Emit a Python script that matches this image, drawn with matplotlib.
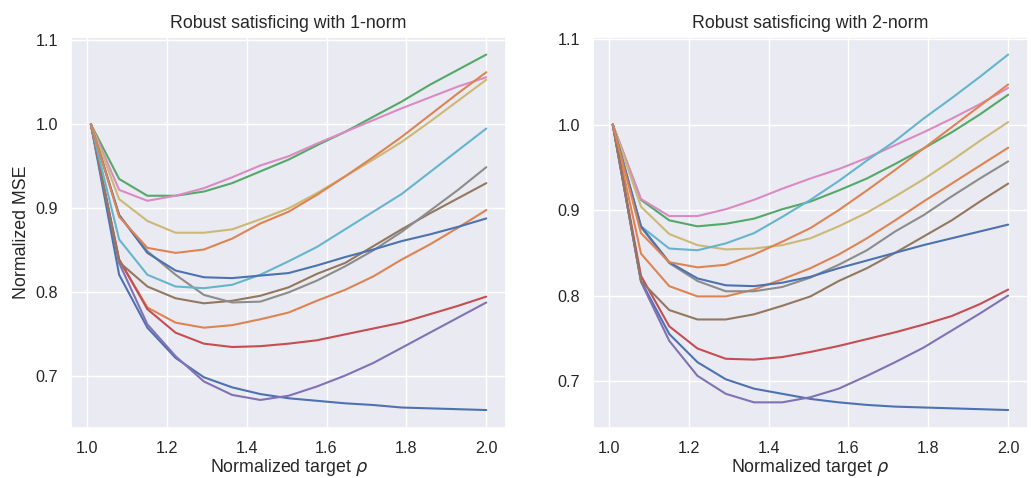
import numpy as np
import matplotlib
matplotlib.use("Agg")
import matplotlib.pyplot as plt
import seaborn as sns

# normalized target rho (15 points)
rho = [1.01, 1.0807, 1.1514, 1.2221, 1.2929, 1.3636, 1.4343, 1.505,
       1.5757, 1.6464, 1.7171, 1.7879, 1.8586, 1.9293, 2.0]

# ---- 1-norm ----
n1_blue_a = [1.0, 0.821, 0.758, 0.722, 0.699, 0.687, 0.679, 0.674, 0.671, 0.668, 0.666, 0.663, 0.662, 0.661, 0.660]
n1_orange_a = [1.0, 0.839, 0.782, 0.764, 0.758, 0.761, 0.768, 0.776, 0.790, 0.803, 0.819, 0.839, 0.857, 0.877, 0.898]
n1_green = [1.0, 0.935, 0.915, 0.915, 0.920, 0.930, 0.944, 0.958, 0.975, 0.991, 1.009, 1.027, 1.047, 1.065, 1.083]
n1_red = [1.0, 0.839, 0.780, 0.752, 0.739, 0.735, 0.736, 0.739, 0.743, 0.750, 0.757, 0.764, 0.774, 0.784, 0.795]
n1_purple = [1.0, 0.835, 0.762, 0.724, 0.694, 0.678, 0.672, 0.677, 0.688, 0.701, 0.716, 0.734, 0.752, 0.770, 0.788]
n1_brown = [1.0, 0.836, 0.807, 0.793, 0.787, 0.790, 0.796, 0.806, 0.822, 0.835, 0.855, 0.875, 0.894, 0.912, 0.930]
n1_pink = [1.0, 0.922, 0.909, 0.915, 0.924, 0.937, 0.951, 0.962, 0.977, 0.991, 1.005, 1.019, 1.032, 1.045, 1.056]
n1_gray = [1.0, 0.892, 0.849, 0.821, 0.797, 0.788, 0.789, 0.800, 0.814, 0.831, 0.850, 0.872, 0.897, 0.922, 0.949]
n1_olive = [1.0, 0.911, 0.885, 0.871, 0.871, 0.875, 0.887, 0.900, 0.918, 0.938, 0.958, 0.979, 1.003, 1.028, 1.053]
n1_cyan = [1.0, 0.863, 0.821, 0.807, 0.805, 0.809, 0.821, 0.837, 0.854, 0.875, 0.896, 0.917, 0.943, 0.969, 0.995]
n1_blue_b = [1.0, 0.892, 0.847, 0.826, 0.818, 0.817, 0.820, 0.823, 0.832, 0.842, 0.851, 0.861, 0.869, 0.878, 0.888]
n1_orange_b = [1.0, 0.890, 0.853, 0.847, 0.851, 0.864, 0.882, 0.896, 0.916, 0.938, 0.961, 0.985, 1.011, 1.037, 1.062]

# ---- 2-norm ----
n2_blue_a = [1.0, 0.817, 0.755, 0.722, 0.702, 0.691, 0.685, 0.679, 0.675, 0.672, 0.670, 0.669, 0.668, 0.667, 0.666]
n2_orange_a = [1.0, 0.849, 0.811, 0.799, 0.799, 0.807, 0.819, 0.832, 0.848, 0.867, 0.888, 0.910, 0.931, 0.952, 0.973]
n2_green = [1.0, 0.912, 0.888, 0.881, 0.884, 0.890, 0.901, 0.910, 0.923, 0.937, 0.954, 0.972, 0.991, 1.012, 1.035]
n2_red = [1.0, 0.823, 0.764, 0.738, 0.726, 0.725, 0.728, 0.734, 0.741, 0.749, 0.757, 0.766, 0.776, 0.790, 0.807]
n2_purple = [1.0, 0.816, 0.747, 0.706, 0.685, 0.675, 0.675, 0.681, 0.691, 0.706, 0.722, 0.739, 0.759, 0.779, 0.800]
n2_brown = [1.0, 0.817, 0.783, 0.772, 0.772, 0.778, 0.788, 0.799, 0.817, 0.832, 0.850, 0.869, 0.888, 0.910, 0.931]
n2_pink = [1.0, 0.913, 0.893, 0.893, 0.901, 0.912, 0.925, 0.937, 0.948, 0.961, 0.976, 0.991, 1.007, 1.024, 1.043]
n2_gray = [1.0, 0.880, 0.838, 0.817, 0.805, 0.805, 0.810, 0.821, 0.836, 0.853, 0.875, 0.894, 0.916, 0.937, 0.957]
n2_olive = [1.0, 0.904, 0.872, 0.859, 0.854, 0.855, 0.859, 0.867, 0.881, 0.897, 0.916, 0.936, 0.958, 0.981, 1.003]
n2_cyan = [1.0, 0.881, 0.855, 0.853, 0.861, 0.873, 0.892, 0.912, 0.934, 0.958, 0.981, 1.007, 1.031, 1.056, 1.082]
n2_blue_b = [1.0, 0.881, 0.839, 0.820, 0.812, 0.811, 0.815, 0.822, 0.832, 0.841, 0.850, 0.859, 0.867, 0.875, 0.883]
n2_orange_b = [1.0, 0.873, 0.839, 0.833, 0.836, 0.848, 0.863, 0.879, 0.900, 0.923, 0.947, 0.972, 0.997, 1.022, 1.047]

norm1 = [n1_blue_a, n1_orange_a, n1_green, n1_red, n1_purple, n1_brown,
         n1_pink, n1_gray, n1_olive, n1_cyan, n1_blue_b, n1_orange_b]
norm2 = [n2_blue_a, n2_orange_a, n2_green, n2_red, n2_purple, n2_brown,
         n2_pink, n2_gray, n2_olive, n2_cyan, n2_blue_b, n2_orange_b]

sns.set_theme(style="darkgrid")
plt.rcParams['font.family'] = ['Liberation Sans', 'DejaVu Sans']

fig, axes = plt.subplots(1, 2, figsize=(10.31, 4.78), dpi=100)
fig.subplots_adjust(left=0.069, right=0.997, bottom=0.105, top=0.923, wspace=0.2)

for ax, curves, title in zip(axes, [norm1, norm2], ['Robust satisficing with 1-norm', 'Robust satisficing with 2-norm']):
    for c in curves:
        ax.plot(rho, c)
    ax.set_title(title, fontsize=12.8)
    ax.set_xlabel(r'Normalized target $\rho$', fontsize=12.8, labelpad=1)
    ax.tick_params(labelsize=11.6)
axes[0].set_ylabel('Normalized MSE', fontsize=12.8)

fig.savefig('out.png')
